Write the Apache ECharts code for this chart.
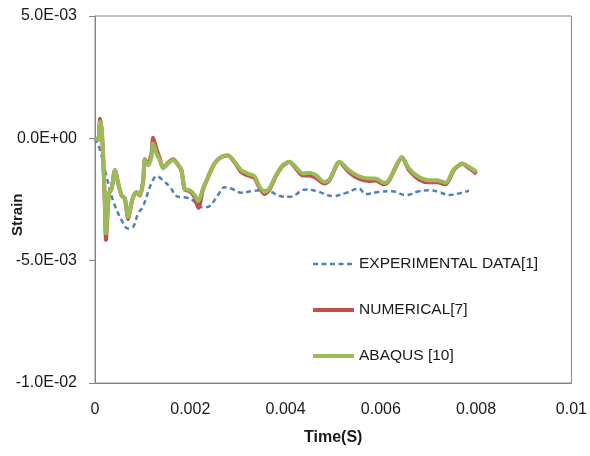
<!DOCTYPE html>
<html>
<head>
<meta charset="utf-8">
<title>Strain vs time</title>
<script src="https://cdn.jsdelivr.net/npm/echarts@6/dist/echarts.min.js"></script>
<style>
  html, body { margin: 0; padding: 0; background: #ffffff; }
  #chart { width: 590px; height: 456px; }
</style>
</head>
<body>
<div id="chart"></div>
<script>
// Series names
const seriesNames = ['EXPERIMENTAL DATA[1]', 'NUMERICAL[7]', 'ABAQUS [10]'];

// Axis tick labels
const xTickLabels = ['0', '0.002', '0.004', '0.006', '0.008', '0.01'];
const yTickLabels = ['-1.0E-02', '-5.0E-03', '0.0E+00', '5.0E-03'];

// Experimental data: time in ms, strain in units of 1e-3
const expTimeMs = [0, 0.105, 0.245, 0.377, 0.559, 0.697, 0.801, 0.906, 1.004, 1.186, 1.297, 1.423, 1.569, 1.743, 1.883, 2.05, 2.232, 2.37, 2.58, 2.72, 2.86, 3.07, 3.28, 3.49, 3.70, 3.87, 4.08, 4.43, 4.64, 4.99, 5.27, 5.54, 5.68, 5.96, 6.23, 6.52, 6.80, 7.01, 7.22, 7.43, 7.64, 7.85];
const expStrainMilli = [0.0, -0.48, -1.58, -2.53, -3.35, -3.69, -3.62, -3.06, -2.80, -1.83, -1.55, -1.71, -1.98, -2.39, -2.41, -2.53, -2.82, -2.80, -2.32, -2.00, -2.05, -2.22, -2.16, -2.12, -2.19, -2.36, -2.39, -2.09, -2.15, -2.36, -2.23, -2.05, -2.28, -2.19, -2.16, -2.32, -2.16, -2.12, -2.19, -2.32, -2.25, -2.14];

// Numerical and ABAQUS results share the same time stations (ms)
const simTimeMs = [0, 0.07, 0.105, 0.14, 0.174, 0.209, 0.23, 0.266, 0.293, 0.349, 0.418, 0.487, 0.559, 0.628, 0.697, 0.732, 0.801, 0.872, 0.941, 1.010, 1.046, 1.115, 1.186, 1.220, 1.291, 1.360, 1.429, 1.533, 1.638, 1.743, 1.814, 1.883, 1.987, 2.092, 2.17, 2.266, 2.37, 2.51, 2.65, 2.79, 2.93, 3.07, 3.21, 3.35, 3.45, 3.56, 3.66, 3.80, 3.94, 4.08, 4.18, 4.36, 4.50, 4.64, 4.81, 4.92, 5.13, 5.33, 5.54, 5.75, 5.89, 6.07, 6.17, 6.31, 6.44, 6.59, 6.80, 7.01, 7.18, 7.36, 7.53, 7.71, 7.85, 8.01];
const numStrainMilli = [0.0, -0.07, 0.80, 0.34, -0.89, -2.85, -4.15, -2.98, -2.26, -2.06, -1.30, -1.85, -2.34, -2.48, -3.30, -2.96, -2.40, -2.20, -2.34, -1.76, -0.85, -1.05, -0.60, 0.02, -0.45, -0.82, -1.20, -1.00, -0.86, -1.08, -1.30, -2.08, -2.16, -2.40, -2.85, -2.10, -1.60, -1.02, -0.76, -0.70, -0.98, -1.38, -1.52, -1.62, -2.02, -2.28, -2.10, -1.53, -1.12, -0.97, -1.14, -1.52, -1.52, -1.62, -1.85, -1.72, -0.98, -1.38, -1.65, -1.74, -1.72, -1.88, -1.74, -1.18, -0.77, -1.30, -1.68, -1.80, -1.80, -1.88, -1.30, -1.04, -1.22, -1.45];
const abqStrainMilli = [0.0, -0.07, 0.68, 0.34, -0.89, -2.80, -3.88, -2.94, -2.24, -2.04, -1.30, -1.83, -2.32, -2.45, -3.21, -2.94, -2.39, -2.19, -2.32, -1.78, -0.89, -1.10, -0.76, -0.21, -0.62, -0.89, -1.23, -1.03, -0.89, -1.10, -1.30, -2.05, -2.12, -2.32, -2.57, -2.05, -1.58, -1.03, -0.76, -0.69, -0.96, -1.30, -1.44, -1.55, -1.96, -2.19, -2.05, -1.51, -1.10, -0.96, -1.10, -1.44, -1.41, -1.51, -1.78, -1.68, -0.96, -1.30, -1.55, -1.64, -1.64, -1.82, -1.71, -1.17, -0.76, -1.23, -1.58, -1.71, -1.71, -1.82, -1.27, -1.03, -1.17, -1.37];

// Convert to seconds / absolute strain pairs
function toPairs(timeMs, strainMilli) {
  return timeMs.map((t, i) => [t * 1e-3, strainMilli[i] * 1e-3]);
}

const FONT = '"Liberation Sans", Arial, sans-serif';
const AXIS_GRAY = '#868686';
const COLORS = ['#4F81BD', '#C0504D', '#9BBB59'];
const DASH = [5, 3.5];

const chart = echarts.init(document.getElementById('chart'), null, { renderer: 'canvas' });

chart.setOption({
  backgroundColor: '#ffffff',
  animation: false,
  textStyle: { fontFamily: FONT },
  grid: {
    left: 95, right: 17, top: 16, bottom: 73,
    show: true, borderColor: AXIS_GRAY, borderWidth: 1, backgroundColor: 'transparent'
  },
  legend: {
    orient: 'vertical',
    left: 306,
    top: 251,
    itemWidth: 41,
    itemHeight: 14,
    itemGap: 30,
    // line-only keys: hide the marker drawn in the middle of each key
    itemStyle: { opacity: 0 },
    textStyle: { fontFamily: FONT, fontSize: 15.5, color: '#1a1a1a' },
    data: [
      { name: seriesNames[0], lineStyle: { color: COLORS[0], width: 2.5, type: DASH } },
      { name: seriesNames[1], lineStyle: { color: COLORS[1], width: 4 } },
      { name: seriesNames[2], lineStyle: { color: COLORS[2], width: 4 } }
    ]
  },
  xAxis: {
    type: 'value',
    min: 0, max: 0.01, interval: 0.002,
    axisLine: { show: true, onZero: false, lineStyle: { color: AXIS_GRAY, width: 1 } },
    axisTick: { show: false },
    splitLine: { show: false },
    axisLabel: {
      margin: 19,
      fontFamily: FONT, fontSize: 16, color: '#1a1a1a',
      formatter: (v, i) => xTickLabels[i]
    }
  },
  yAxis: {
    type: 'value',
    min: -0.01, max: 0.005, interval: 0.005,
    axisLine: { show: true, onZero: false, lineStyle: { color: AXIS_GRAY, width: 1 } },
    axisTick: { show: true, inside: false, length: 6, lineStyle: { color: AXIS_GRAY } },
    splitLine: { show: false },
    axisLabel: {
      margin: 18,
      fontFamily: FONT, fontSize: 16, color: '#1a1a1a',
      formatter: (v, i) => yTickLabels[i]
    }
  },
  graphic: [
    {
      type: 'text',
      left: 304, top: 430,
      style: { text: 'Time(S)', font: 'bold 16px ' + FONT, fill: '#1a1a1a' }
    },
    {
      type: 'text',
      x: 10, y: 236,
      rotation: Math.PI / 2,
      style: { text: 'Strain', font: 'bold 15px ' + FONT, fill: '#1a1a1a' }
    }
  ],
  series: [
    {
      name: seriesNames[0],
      type: 'line',
      data: toPairs(expTimeMs, expStrainMilli),
      showSymbol: false, symbol: 'none',
      smooth: 0.4,
      z: 1,
      lineStyle: { color: COLORS[0], width: 2.5, type: DASH },
      itemStyle: { color: COLORS[0] }
    },
    {
      name: seriesNames[1],
      type: 'line',
      data: toPairs(simTimeMs, numStrainMilli),
      showSymbol: false, symbol: 'none',
      smooth: 0.25,
      z: 2,
      lineStyle: { color: COLORS[1], width: 4 },
      itemStyle: { color: COLORS[1] }
    },
    {
      name: seriesNames[2],
      type: 'line',
      data: toPairs(simTimeMs, abqStrainMilli),
      showSymbol: false, symbol: 'none',
      smooth: 0.25,
      z: 3,
      lineStyle: { color: COLORS[2], width: 4 },
      itemStyle: { color: COLORS[2] }
    }
  ]
});
</script>
</body>
</html>
